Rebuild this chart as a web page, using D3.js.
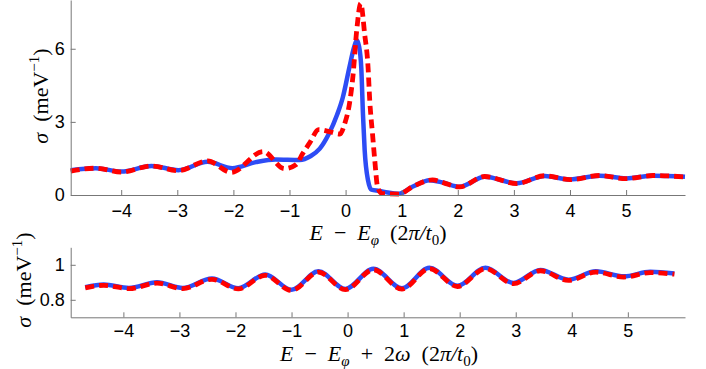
<!DOCTYPE html>
<html><head><meta charset="utf-8">
<script src="https://cdn.jsdelivr.net/npm/d3@7"></script>
<style>
body{margin:0;background:#fff;}
svg{display:block;}
.tick text{font-family:"Liberation Sans",Arial,sans-serif;font-size:18px;fill:#000;}
.lab{font-family:"Liberation Serif","DejaVu Serif",serif;font-size:22px;fill:#000;}
</style></head>
<body>
<svg id="c" width="706" height="369"></svg>
<script>
// Top panel data: E - E_phi (2pi/t0)
const topBlueX = [-4.9,-4.45,-4.0,-3.46,-2.98,-2.46,-2.02,-1.6,-1.25,-0.82,-0.62,-0.46,-0.3,-0.15,-0.05,0.07,0.15,0.2,0.24,0.28,0.31,0.34,0.4,0.46,0.6,0.75,0.95,1.2,1.5,1.75,2.03,2.48,3.05,3.55,4.0,4.53,5.0,5.48,6.05];
const topBlueY = [1.02,1.1,0.96,1.19,1.02,1.36,1.1,1.35,1.46,1.44,1.6,1.9,2.5,3.3,4.0,5.26,6.05,6.35,6.1,5.2,3.3,1.84,0.6,0.22,0.17,0.1,0.05,0.35,0.61,0.5,0.34,0.75,0.48,0.78,0.64,0.79,0.68,0.79,0.75];
const topRedX = [-4.9,-4.45,-4.0,-3.46,-2.98,-2.46,-2.04,-1.47,-1.09,-0.88,-0.77,-0.64,-0.48,-0.29,-0.1,-0.02,0.07,0.13,0.2,0.27,0.34,0.4,0.43,0.48,0.52,0.57,0.65,0.95,1.2,1.55,1.75,2.03,2.48,3.05,3.55,4.0,4.53,5.0,5.48,6.05];
const topRedY = [0.98,1.1,0.94,1.19,1.0,1.40,0.93,1.78,1.08,1.25,1.68,2.14,2.68,2.6,2.5,2.9,3.76,4.85,6.8,7.86,6.6,5.26,3.9,2.5,1.43,0.33,0.06,0.04,0.35,0.62,0.5,0.33,0.76,0.47,0.79,0.63,0.8,0.67,0.8,0.74];
const topTicksX = [-4,-3,-2,-1,0,1,2,3,4,5];
const topTicksY = [0,3,6];

// Bottom panel data: E - E_phi + 2 omega (2pi/t0)
const botX = [-4.68,-4.35,-3.9,-3.4,-2.94,-2.42,-1.95,-1.47,-1.0,-0.52,-0.04,0.46,0.97,1.46,1.96,2.46,2.96,3.44,3.94,4.43,4.93,5.4,5.83];
const botBlue = [0.872,0.887,0.868,0.900,0.868,0.922,0.866,0.945,0.857,0.963,0.862,0.977,0.866,0.983,0.880,0.983,0.896,0.971,0.915,0.963,0.934,0.960,0.950];
const botRed = [0.868,0.883,0.864,0.895,0.864,0.917,0.862,0.940,0.853,0.958,0.858,0.972,0.861,0.978,0.876,0.978,0.892,0.966,0.911,0.958,0.930,0.955,0.946];
const botTicksX = [-4,-3,-2,-1,0,1,2,3,4,5];
const botTicksY = [0.8,1];

const svg = d3.select("#c");
const BLUE = "#2d4cf5", RED = "#ff0000";

function panel(cfg){
  const g = svg.append("g");
  const x = d3.scaleLinear().domain(cfg.xd).range([70.7,685]);
  const y = d3.scaleLinear().domain(cfg.yd).range([cfg.y1,cfg.y0]);
  const line = d3.line().x(d=>x(d[0])).y(d=>y(d[1])).curve(d3.curveMonotoneX);
  g.append("path").datum(d3.zip(cfg.bx,cfg.by)).attr("d",line)
    .attr("fill","none").attr("stroke",BLUE).attr("stroke-width",4.5).attr("stroke-linejoin","round");
  g.append("path").datum(d3.zip(cfg.rx,cfg.ry)).attr("d",line)
    .attr("fill","none").attr("stroke",RED).attr("stroke-width",4.8).attr("stroke-dasharray","9,5");
  const ax = g.append("g").attr("transform",`translate(0,${cfg.y1})`)
    .call(d3.axisBottom(x).tickValues(cfg.tx).tickSizeInner(-5).tickSizeOuter(0).tickPadding(cfg.xpad).tickFormat(d=>d<0?"\u2212"+(-d):d));
  const ay = g.append("g").attr("transform",`translate(70.7,0)`)
    .call(d3.axisLeft(y).tickValues(cfg.ty).tickSizeInner(-5).tickSizeOuter(0).tickPadding(6).tickFormat(cfg.fmt));
  [ax,ay].forEach(a=>{a.selectAll("path,line").attr("stroke","#777").attr("stroke-width",1);});
  ax.selectAll(".tick text").attr("font-size","19px");
  ay.selectAll(".tick text").attr("font-size","19px");
  return {x,y};
}

panel({xd:[-4.9,6.05], yd:[0,8], y0:0, y1:195, bx:topBlueX, by:topBlueY, rx:topRedX, ry:topRedY, tx:topTicksX, ty:topTicksY, fmt:d=>d, xpad:9});
panel({xd:[-4.94,6.02], yd:[0.7,1.1], y0:247.3, y1:317.3, bx:botX, by:botBlue, rx:botX, ry:botRed, tx:botTicksX, ty:botTicksY, fmt:d=>d, xpad:7});

// labels
function sub(t, s){ t.append("tspan").attr("font-style","italic").attr("font-size","15px").attr("dy",5).text(s); }
const t1 = svg.append("text").attr("class","lab").attr("x",378).attr("y",240).attr("text-anchor","middle");
t1.append("tspan").attr("font-style","italic").text("E");
t1.append("tspan").text("\u2002\u2212\u2002");
t1.append("tspan").attr("font-style","italic").text("E");
sub(t1,"\u03C6");
t1.append("tspan").attr("dy",-5).text("\u2002(2");
t1.append("tspan").attr("font-style","italic").text("\u03C0/t");
t1.append("tspan").attr("font-size","15px").attr("dy",5).text("0");
t1.append("tspan").attr("dy",-5).text(")");

const t2 = svg.append("text").attr("class","lab").attr("x",379).attr("y",361).attr("text-anchor","middle").attr("font-size","21px");
t2.append("tspan").attr("font-style","italic").text("E");
t2.append("tspan").text("\u2002\u2212\u2002");
t2.append("tspan").attr("font-style","italic").text("E");
sub(t2,"\u03C6");
t2.append("tspan").attr("dy",-5).text("\u2002+\u20022");
t2.append("tspan").attr("font-style","italic").text("\u03C9");
t2.append("tspan").text("\u2002(2");
t2.append("tspan").attr("font-style","italic").text("\u03C0/t");
t2.append("tspan").attr("font-size","15px").attr("dy",5).text("0");
t2.append("tspan").attr("dy",-5).text(")");

function ylab(cx,cy){
  const t = svg.append("text").attr("class","lab").attr("transform",`translate(${cx},${cy}) rotate(-90)`).attr("text-anchor","middle");
  t.append("tspan").attr("font-style","italic").text("\u03C3");
  t.append("tspan").text("\u2002(meV");
  t.append("tspan").attr("font-size","15px").attr("dy",-9).text("\u22121");
  t.append("tspan").attr("dy",9).text(")");
}
ylab(48,96);
ylab(31,280);
</script>
</body></html>
